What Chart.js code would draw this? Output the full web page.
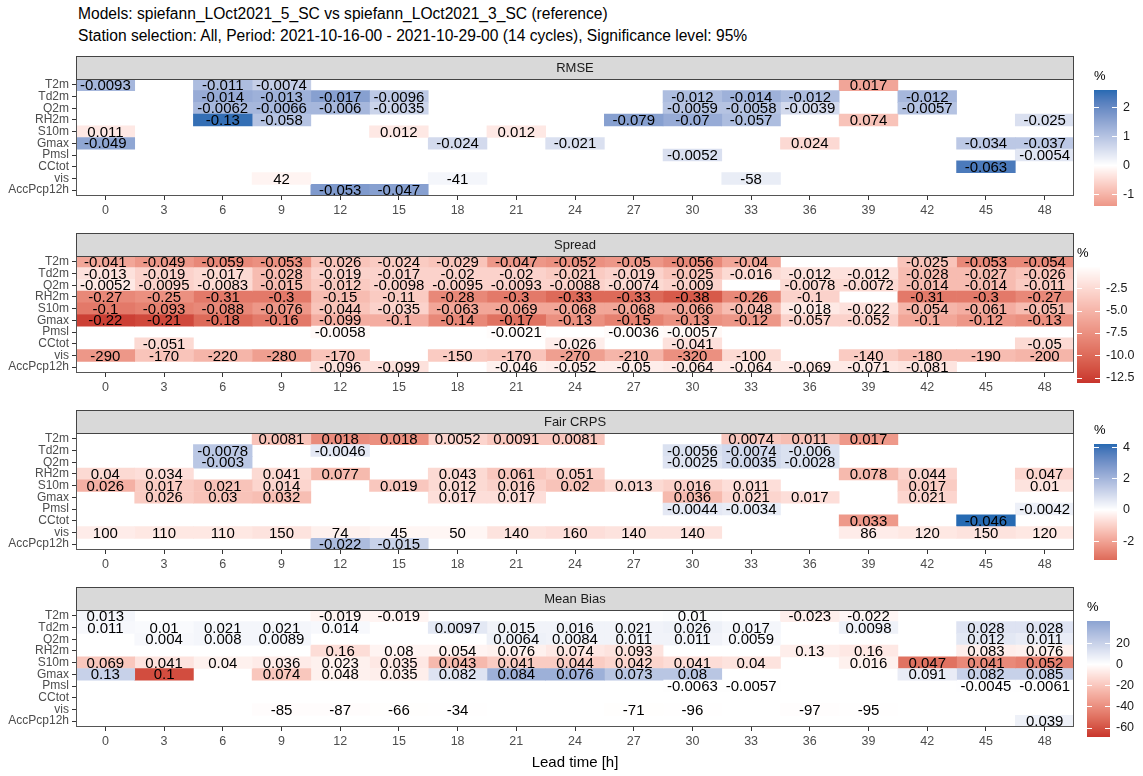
<!DOCTYPE html>
<html>
<head>
<meta charset="utf-8">
<script src="https://cdn.jsdelivr.net/npm/chart.js@4.4.0/dist/chart.umd.min.js"></script>
<style>
  body { margin: 0; background: #fff; font-family: "Liberation Sans", Arial, sans-serif; }
  #wrap { position: relative; width: 1143px; height: 776px; overflow: hidden; }
  .title { position: absolute; left: 78px; font-size: 15.6px; line-height: 18px; color: #000; white-space: nowrap; }
  .panel { position: absolute; left: 0; width: 1143px; }
</style>
</head>
<body>
<div id="wrap">
  <div class="title" style="top:5px">Models: spiefann_LOct2021_5_SC vs spiefann_LOct2021_3_SC (reference)</div>
  <div class="title" style="top:27px">Station selection: All, Period: 2021-10-16-00 - 2021-10-29-00 (14 cycles), Significance level: 95%</div>
  <div class="panel" style="top:55px"><canvas id="c0" width="1143" height="177"></canvas></div>
  <div class="panel" style="top:232px"><canvas id="c1" width="1143" height="177"></canvas></div>
  <div class="panel" style="top:409px"><canvas id="c2" width="1143" height="177"></canvas></div>
  <div class="panel" style="top:586px"><canvas id="c3" width="1143" height="190"></canvas></div>
</div>
<script>
const _ = null;

// categories
const rowNames = ['T2m', 'Td2m', 'Q2m', 'RH2m', 'S10m', 'Gmax', 'Pmsl', 'CCtot', 'vis', 'AccPcp12h'];
const leadTimes = [0, 3, 6, 9, 12, 15, 18, 21, 24, 27, 30, 33, 36, 39, 42, 45, 48];

// RMSE: printed difference and relative difference in %
const rmseText = [
  [-0.0093,_,-0.011,-0.0074,_,_,_,_,_,_,_,_,_,0.017,_,_,_],
  [_,_,-0.014,-0.013,-0.017,-0.0096,_,_,_,_,-0.012,-0.014,-0.012,_,-0.012,_,_],
  [_,_,-0.0062,-0.0066,-0.006,-0.0035,_,_,_,_,-0.0059,-0.0058,-0.0039,_,-0.0057,_,_],
  [_,_,-0.13,-0.058,_,_,_,_,_,-0.079,-0.07,-0.057,_,0.074,_,_,-0.025],
  [0.011,_,_,_,_,0.012,_,0.012,_,_,_,_,_,_,_,_,_],
  [-0.049,_,_,_,_,_,-0.024,_,-0.021,_,_,_,0.024,_,_,-0.034,-0.037],
  [_,_,_,_,_,_,_,_,_,_,-0.0052,_,_,_,_,_,-0.0054],
  [_,_,_,_,_,_,_,_,_,_,_,_,_,_,_,-0.063,_],
  [_,_,_,42,_,_,-41,_,_,_,_,-58,_,_,_,_,_],
  [_,_,_,_,-0.053,-0.047,_,_,_,_,_,_,_,_,_,_,_]
];
const rmsePct = [
  [1.2,_,1.1,0.8,_,_,_,_,_,_,_,_,_,-1.2,_,_,_],
  [_,_,1.4,1.3,1.6,0.9,_,_,_,_,1.1,1.3,1.1,_,1.2,_,_],
  [_,_,1.2,1.2,1.2,0.7,_,_,_,_,1.0,1.0,0.6,_,1.0,_,_],
  [_,_,2.5,1.0,_,_,_,_,_,1.6,1.4,1.1,_,-0.8,_,_,0.5],
  [-0.3,_,_,_,_,-0.3,_,-0.3,_,_,_,_,_,_,_,_,_],
  [1.5,_,_,_,_,_,0.6,_,0.5,_,_,_,-0.5,_,_,0.9,0.9],
  [_,_,_,_,_,_,_,_,_,_,0.5,_,_,_,_,_,0.4],
  [_,_,_,_,_,_,_,_,_,_,_,_,_,_,_,2.3,_],
  [_,_,_,-0.15,_,_,0.15,_,_,_,_,0.3,_,_,_,_,_],
  [_,_,_,_,1.7,1.6,_,_,_,_,_,_,_,_,_,_,_]
];

// Spread
const spreadText = [
  [-0.041,-0.049,-0.059,-0.053,-0.026,-0.024,-0.029,-0.047,-0.052,-0.05,-0.056,-0.04,_,_,-0.025,-0.053,-0.054],
  [-0.013,-0.019,-0.017,-0.028,-0.019,-0.017,-0.02,-0.02,-0.021,-0.019,-0.025,-0.016,-0.012,-0.012,-0.028,-0.027,-0.026],
  [-0.0052,-0.0095,-0.0083,-0.015,-0.012,-0.0098,-0.0095,-0.0093,-0.0088,-0.0074,-0.009,_,-0.0078,-0.0072,-0.014,-0.014,-0.011],
  [-0.27,-0.25,-0.31,-0.3,-0.15,-0.11,-0.28,-0.3,-0.33,-0.33,-0.38,-0.26,-0.1,_,-0.31,-0.3,-0.27],
  [-0.1,-0.093,-0.088,-0.076,-0.044,-0.035,-0.063,-0.069,-0.068,-0.068,-0.066,-0.048,-0.018,-0.022,-0.054,-0.061,-0.051],
  [-0.22,-0.21,-0.18,-0.16,-0.099,-0.1,-0.14,-0.17,-0.13,-0.15,-0.13,-0.12,-0.057,-0.052,-0.1,-0.12,-0.13],
  [_,_,_,_,-0.0058,_,_,-0.0021,_,-0.0036,-0.0057,_,_,_,_,_,_],
  [_,-0.051,_,_,_,_,_,_,-0.026,_,-0.041,_,_,_,_,_,-0.05],
  [-290,-170,-220,-280,-170,_,-150,-170,-270,-210,-320,-100,_,-140,-180,-190,-200],
  [_,_,_,_,-0.096,-0.099,_,-0.046,-0.052,-0.05,-0.064,-0.064,-0.069,-0.071,-0.081,_,_]
];
const spreadPct = [
  [-6,-7,-8,-7.5,-4,-3.5,-4,-7,-7.5,-7,-8,-6,_,_,-4,-8,-8],
  [-2,-3,-2.5,-4.5,-3,-3,-3,-3,-3.5,-3,-4,-2.5,-2,-2,-4.5,-4.5,-4],
  [-1.5,-3,-2.5,-4.5,-3.5,-3,-3,-3,-3,-2.5,-3,_,-2.5,-2.5,-4.5,-4.5,-3.5],
  [-8,-7.5,-9,-9,-4.5,-3.5,-8,-9,-10,-10,-11,-8,-3,_,-9,-9,-8],
  [-9,-8.5,-8,-7,-4,-3,-6,-6,-6,-6,-6,-4.5,-1.5,-2,-5,-5.5,-4.5],
  [-12.5,-12,-10,-9,-5.5,-5.5,-8,-9.5,-7.5,-8.5,-7.5,-7,-3,-3,-6,-7,-7.5],
  [_,_,_,_,-0.5,_,_,-0.2,_,-0.3,-0.5,_,_,_,_,_,_],
  [_,-2.5,_,_,_,_,_,_,-1.2,_,-2,_,_,_,_,_,-2.5],
  [-7,-4,-5,-6.5,-4,_,-3.5,-4,-6.5,-5,-7.5,-2.5,_,-3.5,-4.5,-4.5,-5],
  [_,_,_,_,-2,-2,_,-1,-1.2,-1.2,-1.5,-1.5,-1.5,-1.5,-1.8,_,_]
];

// Fair CRPS
const crpsText = [
  [_,_,_,0.0081,0.018,0.018,0.0052,0.0091,0.0081,_,_,0.0074,0.011,0.017,_,_,_],
  [_,_,-0.0078,_,-0.0046,_,_,_,_,_,-0.0056,-0.0074,-0.006,_,_,_,_],
  [_,_,-0.003,_,_,_,_,_,_,_,-0.0025,-0.0035,-0.0028,_,_,_,_],
  [0.04,0.034,_,0.041,0.077,_,0.043,0.061,0.051,_,_,_,_,0.078,0.044,_,0.047],
  [0.026,0.017,0.021,0.014,_,0.019,0.012,0.016,0.02,0.013,0.016,0.011,_,_,0.017,_,0.01],
  [_,0.026,0.03,0.032,_,_,0.017,0.017,_,_,0.036,0.021,0.017,_,0.021,_,_],
  [_,_,_,_,_,_,_,_,_,_,-0.0044,-0.0034,_,_,_,_,-0.0042],
  [_,_,_,_,_,_,_,_,_,_,_,_,_,0.033,_,-0.046,_],
  [100,110,110,150,74,45,50,140,160,140,140,_,_,86,120,150,120],
  [_,_,_,_,-0.022,-0.015,_,_,_,_,_,_,_,_,_,_,_]
];
const crpsPct = [
  [_,_,_,-1.3,-2.5,-2.4,-0.9,-1.2,-1.2,_,_,-1.2,-1.4,-2.2,_,_,_],
  [_,_,1.5,_,0.6,_,_,_,_,_,0.8,1.0,0.8,_,_,_,_],
  [_,_,1.5,_,_,_,_,_,_,_,0.7,1.0,0.8,_,_,_,_],
  [-0.8,-0.7,_,-0.8,-1.5,_,-0.8,-1.2,-1.0,_,_,_,_,-1.5,-0.9,_,-0.9],
  [-1.7,-1.1,-1.3,-0.9,_,-1.2,-0.8,-1.0,-1.3,-0.8,-1.0,-0.7,_,_,-1.1,_,-0.6],
  [_,-1.1,-1.3,-1.4,_,_,-0.7,-0.7,_,_,-1.5,-0.9,-0.7,_,-0.9,_,_],
  [_,_,_,_,_,_,_,_,_,_,0.6,0.5,_,_,_,_,0.4],
  [_,_,_,_,_,_,_,_,_,_,_,_,_,-2.2,_,4.2,_],
  [-0.4,-0.5,-0.5,-0.6,-0.3,-0.2,-0.2,-0.6,-0.7,-0.6,-0.6,_,_,-0.4,-0.5,-0.6,-0.5],
  [_,_,_,_,1.8,1.2,_,_,_,_,_,_,_,_,_,_,_]
];

// Mean Bias
const biasText = [
  [0.013,_,_,_,-0.019,-0.019,_,_,_,_,0.01,_,-0.023,-0.022,_,_,_],
  [0.011,0.01,0.021,0.021,0.014,_,0.0097,0.015,0.016,0.021,0.026,0.017,_,0.0098,_,0.028,0.028],
  [_,0.004,0.008,0.0089,_,_,_,0.0064,0.0084,0.011,0.011,0.0059,_,_,_,0.012,0.011],
  [_,_,_,_,0.16,0.08,0.054,0.076,0.074,0.093,_,_,0.13,0.16,_,0.083,0.076],
  [0.069,0.041,0.04,0.036,0.023,0.035,0.043,0.041,0.044,0.042,0.041,0.04,_,0.016,0.047,0.041,0.052],
  [0.13,0.1,_,0.074,0.048,0.035,0.082,0.084,0.076,0.073,0.08,_,_,_,0.091,0.082,0.085],
  [_,_,_,_,_,_,_,_,_,_,-0.0063,-0.0057,_,_,_,-0.0045,-0.0061],
  [_,_,_,_,_,_,_,_,_,_,_,_,_,_,_,_,_],
  [_,_,_,-85,-87,-66,-34,_,_,-71,-96,_,-97,-95,_,_,_],
  [_,_,_,_,_,_,_,_,_,_,_,_,_,_,_,_,0.039]
];
const biasPct = [
  [4,_,_,_,-4,-4,_,_,_,_,1,_,-6,-3,_,_,_],
  [3,2,4,4,3,_,10,5,5,5,6,4,_,6,_,12,12],
  [_,3,4,4,_,_,_,6,5,5,5,3,_,_,_,10,8],
  [_,_,_,_,-12,-4,-4,-5,-8,-10,_,_,-6,-8,_,-6,-5],
  [-20,-10,-5,-7,-5,-8,-25,-18,-18,-15,-12,-10,_,-5,-50,-42,-45],
  [20,-62,_,-20,-5,-6,12,35,35,25,25,_,_,_,8,20,20],
  [_,_,_,_,_,_,_,_,_,_,0.5,0.5,_,_,_,0.4,0.5],
  [_,_,_,_,_,_,_,_,_,_,_,_,_,_,_,_,_],
  [_,_,_,-1,-1,-0.5,-0.3,_,_,-0.5,-0.3,_,-0.6,-0.4,_,_,_],
  [_,_,_,_,_,_,_,_,_,_,_,_,_,_,_,_,6]
];

// colour bar ranges and tick labels (%)
const rmseRange = [-1.4, 2.6];
const spreadRange = [-13.1, -0.1];
const crpsRange = [-3.2, 4.2];
const biasRange = [-69, 41];
const rmseLegendTicks = [2, 1, 0, -1];
const spreadLegendTicks = [-2.5, -5, -7.5, -10, -12.5];
const crpsLegendTicks = [4, 2, 0, -2];
const biasLegendTicks = [20, 0, -20, -40, -60];

const FONT = '"Liberation Sans", Arial, sans-serif';
Chart.defaults.font.family = FONT;

// colours: red (low) - white - blue (high), interpolated in Lab like ggplot
const LOW = [200, 52, 44];
const MID = [255, 255, 255];
const HIGH = [38, 106, 178];

function toLin(c) { c /= 255; return c <= 0.04045 ? c / 12.92 : Math.pow((c + 0.055) / 1.055, 2.4); }
function fromLin(c) {
  const v = c <= 0.0031308 ? 12.92 * c : 1.055 * Math.pow(c, 1 / 2.4) - 0.055;
  return Math.round(Math.max(0, Math.min(1, v)) * 255);
}
function rgbToLab(rgb) {
  const r = toLin(rgb[0]), g = toLin(rgb[1]), b = toLin(rgb[2]);
  const x = (0.4124 * r + 0.3576 * g + 0.1805 * b) / 0.95047;
  const y = 0.2126 * r + 0.7152 * g + 0.0722 * b;
  const z = (0.0193 * r + 0.1192 * g + 0.9505 * b) / 1.08883;
  const f = t => t > 0.008856 ? Math.cbrt(t) : 7.787 * t + 16 / 116;
  return [116 * f(y) - 16, 500 * (f(x) - f(y)), 200 * (f(y) - f(z))];
}
function labToRgb(lab) {
  const fy = (lab[0] + 16) / 116, fx = fy + lab[1] / 500, fz = fy - lab[2] / 200;
  const inv = t => t * t * t > 0.008856 ? t * t * t : (t - 16 / 116) / 7.787;
  const x = inv(fx) * 0.95047, y = inv(fy), z = inv(fz) * 1.08883;
  const r = 3.2406 * x - 1.5372 * y - 0.4986 * z;
  const g = -0.9689 * x + 1.8758 * y + 0.0415 * z;
  const b = 0.0557 * x - 0.2040 * y + 1.0570 * z;
  return [fromLin(r), fromLin(g), fromLin(b)];
}
const labLow = rgbToLab(LOW), labMid = rgbToLab(MID), labHigh = rgbToLab(HIGH);

function fillFor(v, maxAbs) {
  if (v == null) return 'rgba(0,0,0,0)';
  const t = Math.min(1, Math.abs(v) / maxAbs);
  const end = v < 0 ? labLow : labHigh;
  const lab = labMid.map((m, k) => m + (end[k] - m) * t);
  const c = labToRgb(lab);
  return 'rgb(' + c[0] + ',' + c[1] + ',' + c[2] + ')';
}

const panels = [
  { id: 'c0', name: 'RMSE', text: rmseText, pct: rmsePct, range: rmseRange, legend: rmseLegendTicks, dec: 0, barLeft: 1094, xHeight: 36, last: false },
  { id: 'c1', name: 'Spread', text: spreadText, pct: spreadPct, range: spreadRange, legend: spreadLegendTicks, dec: 1, barLeft: 1077, xHeight: 36, last: false },
  { id: 'c2', name: 'Fair CRPS', text: crpsText, pct: crpsPct, range: crpsRange, legend: crpsLegendTicks, dec: 0, barLeft: 1094, xHeight: 36, last: false },
  { id: 'c3', name: 'Mean Bias', text: biasText, pct: biasPct, range: biasRange, legend: biasLegendTicks, dec: 0, barLeft: 1087, xHeight: 49, last: true }
];

// strip, border, cell labels and colour bar
const decoPlugin = {
  id: 'deco',
  afterDatasetsDraw(chart) {
    const ctx = chart.ctx;
    ctx.save();
    ctx.font = '15px ' + FONT;
    ctx.fillStyle = '#000';
    ctx.textAlign = 'center';
    ctx.textBaseline = 'middle';
    chart.data.datasets.forEach((ds, d) => {
      const meta = chart.getDatasetMeta(d);
      meta.data.forEach((el, i) => {
        const t = ds.cellText[i];
        if (t == null || ds.data[i] == null) return;
        const pr = el.getProps(['x', 'y', 'base'], true);
        ctx.fillText(String(t), (pr.x + pr.base) / 2, pr.y + 1);
      });
    });
    ctx.restore();
  },
  afterDraw(chart) {
    const p = chart.config.options.panel;
    const ctx = chart.ctx;
    const a = chart.chartArea;
    ctx.save();
    // panel border
    ctx.strokeStyle = '#555';
    ctx.lineWidth = 1;
    ctx.strokeRect(Math.round(a.left) + 0.5, Math.round(a.top) + 0.5, Math.round(a.right - a.left) - 1, Math.round(a.bottom - a.top) - 1);
    // strip
    const sTop = Math.round(a.top) - 23;
    ctx.fillStyle = '#d9d9d9';
    ctx.fillRect(Math.round(a.left), sTop, Math.round(a.right - a.left), 23);
    ctx.strokeStyle = '#444';
    ctx.strokeRect(Math.round(a.left) + 0.5, sTop + 0.5, Math.round(a.right - a.left) - 1, 23);
    ctx.fillStyle = '#1a1a1a';
    ctx.font = '13px ' + FONT;
    ctx.textAlign = 'center';
    ctx.textBaseline = 'middle';
    ctx.fillText(p.name, (a.left + a.right) / 2, sTop + 12);
    // colour bar
    const top = 35, bottom = 151, w = 23, x0 = p.barLeft;
    const lo = p.range[0], hi = p.range[1];
    const maxAbs = Math.max(Math.abs(lo), Math.abs(hi));
    for (let y = top; y < bottom; y++) {
      const v = hi - (y + 0.5 - top) / (bottom - top) * (hi - lo);
      ctx.fillStyle = fillFor(v, maxAbs);
      ctx.fillRect(x0, y, w, 1);
    }
    ctx.font = '13px ' + FONT;
    ctx.fillStyle = '#000';
    ctx.textAlign = 'left';
    ctx.fillText('%', x0, 21);
    ctx.font = '12.5px ' + FONT;
    ctx.fillStyle = '#1a1a1a';
    p.legend.forEach(v => {
      const y = top + (hi - v) / (hi - lo) * (bottom - top);
      ctx.strokeStyle = '#fff';
      ctx.beginPath();
      ctx.moveTo(x0, Math.round(y) + 0.5); ctx.lineTo(x0 + 5, Math.round(y) + 0.5);
      ctx.moveTo(x0 + w - 5, Math.round(y) + 0.5); ctx.lineTo(x0 + w, Math.round(y) + 0.5);
      ctx.stroke();
      ctx.fillText(v.toFixed(p.dec), x0 + w + 6, y);
    });
    ctx.restore();
  }
};

function makePanel(p) {
  const maxAbs = Math.max(Math.abs(p.range[0]), Math.abs(p.range[1]));
  const datasets = leadTimes.map((lt, c) => ({
    data: rowNames.map((r, i) => p.pct[i][c] == null ? null : [lt - 1.5, lt + 1.5]),
    backgroundColor: rowNames.map((r, i) => fillFor(p.pct[i][c], maxAbs)),
    cellText: rowNames.map((r, i) => p.text[i][c]),
    grouped: false,
    barPercentage: 1,
    categoryPercentage: 1,
    borderWidth: 0
  }));
  new Chart(document.getElementById(p.id), {
    type: 'bar',
    data: { labels: rowNames, datasets: datasets },
    options: {
      panel: p,
      indexAxis: 'y',
      responsive: false,
      animation: false,
      devicePixelRatio: 1,
      layout: { padding: { top: 24, right: 69, left: 0, bottom: 0 } },
      plugins: { legend: { display: false }, tooltip: { enabled: false } },
      scales: {
        x: {
          type: 'linear', min: -1.5, max: 49.5, stacked: false,
          afterBuildTicks: s => { s.ticks = leadTimes.map(v => ({ value: v })); },
          afterFit: s => { s.height = p.xHeight; },
          grid: { drawOnChartArea: false, drawTicks: true, tickLength: 4, color: '#333' },
          border: { display: false },
          ticks: { color: '#4d4d4d', font: { size: 12.5 }, padding: 3, maxRotation: 0, autoSkip: false },
          title: { display: p.last, text: 'Lead time [h]', color: '#000', font: { size: 15 }, padding: { top: 0, bottom: 4 } }
        },
        y: {
          type: 'category',
          offset: true,
          afterFit: s => { s.width = 76; },
          grid: { drawOnChartArea: false, drawTicks: true, tickLength: 4, color: '#333', offset: false },
          border: { display: false },
          ticks: { color: '#4d4d4d', font: { size: 12 }, padding: 3, autoSkip: false }
        }
      }
    },
    plugins: [decoPlugin]
  });
}

panels.forEach(makePanel);
</script>
</body>
</html>
